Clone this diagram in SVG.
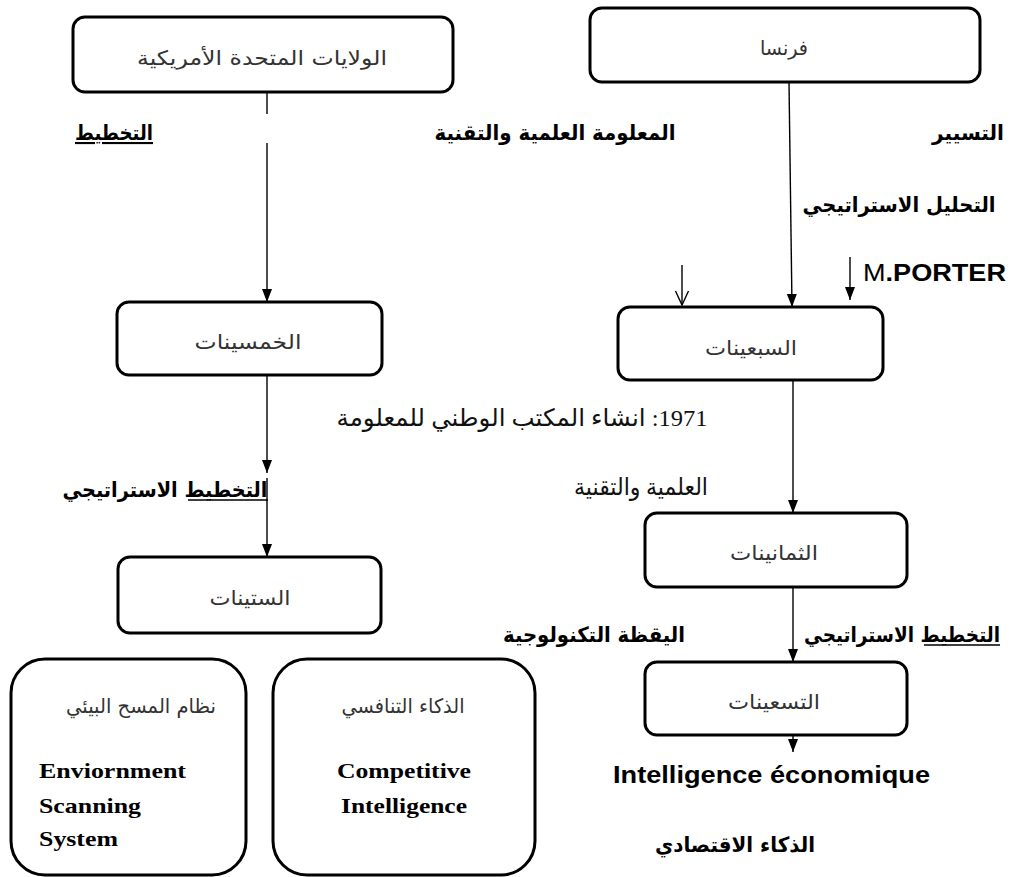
<svg xmlns="http://www.w3.org/2000/svg" width="1015" height="877" viewBox="0 0 1015 877">
<style>
.box{fill:#fff;stroke:#000;stroke-width:3}
.t{font-family:"DejaVu Sans",sans-serif;font-size:20px;fill:#333;text-anchor:middle;direction:rtl}
.b{font-family:"DejaVu Sans","Liberation Sans",sans-serif;font-weight:bold;font-size:21px;fill:#000;text-anchor:middle;direction:rtl}
.r{font-family:"Liberation Serif","DejaVu Sans",serif;font-size:24px;fill:#111;text-anchor:middle;direction:rtl}
.lat{font-family:"Liberation Sans",Arial,sans-serif;font-weight:bold;font-size:23px;fill:#000}
.ser{font-family:"Liberation Serif","Times New Roman",serif;font-weight:bold;font-size:22px;fill:#000}
.c{stroke:#000;stroke-width:1.4;fill:none}
.ul{stroke:#000;stroke-width:1.5}
.u{text-decoration:underline}
</style>
<defs>
<marker id="arr" markerUnits="userSpaceOnUse" markerWidth="14" markerHeight="14" viewBox="0 0 14 14" refX="13" refY="7" orient="auto">
<path d="M0,2 L13,7 L0,12 Z" fill="#000"/>
</marker>
<marker id="open" markerUnits="userSpaceOnUse" markerWidth="16" markerHeight="16" viewBox="0 0 16 16" refX="15" refY="8" orient="auto">
<path d="M1,1.5 L15,8 L1,14.5" fill="none" stroke="#000" stroke-width="1.4"/>
</marker>
</defs>

<g id="connectors">
<line class="c" x1="267" y1="92" x2="267" y2="114"/>
<line class="c" x1="267" y1="143" x2="267" y2="302" marker-end="url(#arr)"/>
<line class="c" x1="267" y1="375" x2="267" y2="473" marker-end="url(#arr)"/>
<line class="c" x1="267" y1="478" x2="267" y2="557" marker-end="url(#arr)"/>
<line class="c" x1="789" y1="82" x2="792" y2="307" marker-end="url(#arr)"/>
<line class="c" x1="682" y1="265" x2="682" y2="305" marker-end="url(#open)"/>
<line class="c" x1="850" y1="257" x2="850" y2="300" marker-end="url(#arr)"/>
<line class="c" x1="793" y1="380" x2="793" y2="513" marker-end="url(#arr)"/>
<line class="c" x1="793" y1="587" x2="793" y2="662" marker-end="url(#arr)"/>
<line class="c" x1="793" y1="735" x2="793" y2="752" marker-end="url(#arr)"/>
</g>

<g id="usa">
<rect class="box" x="73" y="17" width="380" height="75" rx="12"/>
<text class="t" x="262" y="65" textLength="250" lengthAdjust="spacingAndGlyphs">الولايات المتحدة الأمريكية</text>
</g>
<g id="france">
<rect class="box" x="590" y="8" width="390" height="74" rx="12"/>
<text class="t" x="784" y="55" textLength="48" lengthAdjust="spacingAndGlyphs">فرنسا</text>
</g>
<g id="fifties">
<rect class="box" x="117" y="302" width="265" height="73" rx="12"/>
<text class="t" x="248" y="349" textLength="107" lengthAdjust="spacingAndGlyphs">الخمسينات</text>
</g>
<g id="sixties">
<rect class="box" x="118" y="557" width="263" height="76" rx="12"/>
<text class="t" x="250" y="605" textLength="81" lengthAdjust="spacingAndGlyphs">الستينات</text>
</g>
<g id="seventies">
<rect class="box" x="618" y="307" width="265" height="73" rx="12"/>
<text class="t" x="751" y="355" textLength="92" lengthAdjust="spacingAndGlyphs">السبعينات</text>
</g>
<g id="eighties">
<rect class="box" x="645" y="513" width="262" height="74" rx="12"/>
<text class="t" x="774" y="560" textLength="88" lengthAdjust="spacingAndGlyphs">الثمانينات</text>
</g>
<g id="nineties">
<rect class="box" x="645" y="662" width="262" height="73" rx="12"/>
<text class="t" x="774" y="709" textLength="92" lengthAdjust="spacingAndGlyphs">التسعينات</text>
</g>
<g id="ess">
<rect class="box" x="11" y="659" width="235" height="216" rx="34"/>
<text class="t" x="141" y="713" textLength="150" lengthAdjust="spacingAndGlyphs">نظام المسح البيئي</text>
<text class="ser" x="39" y="778" textLength="147" lengthAdjust="spacingAndGlyphs">Enviornment</text>
<text class="ser" x="39" y="813" textLength="102" lengthAdjust="spacingAndGlyphs">Scanning</text>
<text class="ser" x="39" y="846" textLength="79" lengthAdjust="spacingAndGlyphs">System</text>
</g>
<g id="ci">
<rect class="box" x="273" y="659" width="262" height="216" rx="34"/>
<text class="t" x="403" y="713" textLength="123" lengthAdjust="spacingAndGlyphs">الذكاء التنافسي</text>
<text class="ser" x="404" y="778" text-anchor="middle" textLength="134" lengthAdjust="spacingAndGlyphs">Competitive</text>
<text class="ser" x="404" y="813" text-anchor="middle" textLength="126" lengthAdjust="spacingAndGlyphs">Intelligence</text>
</g>

<g id="labels">
<text class="b u" x="114" y="140" textLength="78" lengthAdjust="spacingAndGlyphs">التخطيط</text>
<text class="b" x="555" y="140" textLength="241" lengthAdjust="spacingAndGlyphs">المعلومة العلمية والتقنية</text>
<text class="b" x="968" y="140" textLength="72" lengthAdjust="spacingAndGlyphs">التسيير</text>
<text class="b" x="899" y="212" textLength="193" lengthAdjust="spacingAndGlyphs">التحليل الاستراتيجي</text>
<text class="lat" x="863" y="281" textLength="143" lengthAdjust="spacingAndGlyphs"><tspan font-weight="normal">M</tspan>.PORTER</text>
<text class="b" x="165" y="497" textLength="205" lengthAdjust="spacingAndGlyphs">التخطيط الاستراتيجي</text>
<line class="ul" x1="188" y1="500" x2="268" y2="500"/>
<text class="r" x="522" y="426" textLength="371" lengthAdjust="spacingAndGlyphs">1971: انشاء المكتب الوطني للمعلومة</text>
<text class="r" x="641" y="495" font-size="20" textLength="134" lengthAdjust="spacingAndGlyphs">العلمية والتقنية</text>
<text class="b" x="594" y="642" textLength="182" lengthAdjust="spacingAndGlyphs">اليقظة التكنولوجية</text>
<text class="b" x="902" y="642" font-size="19" textLength="196" lengthAdjust="spacingAndGlyphs">التخطيط الاستراتيجي</text>
<line class="ul" x1="924" y1="645" x2="1000" y2="645"/>
<text class="lat" x="613" y="783" textLength="317" lengthAdjust="spacingAndGlyphs">Intelligence économique</text>
<text class="b" x="735" y="852" textLength="160" lengthAdjust="spacingAndGlyphs">الذكاء الاقتصادي</text>
</g>
</svg>
